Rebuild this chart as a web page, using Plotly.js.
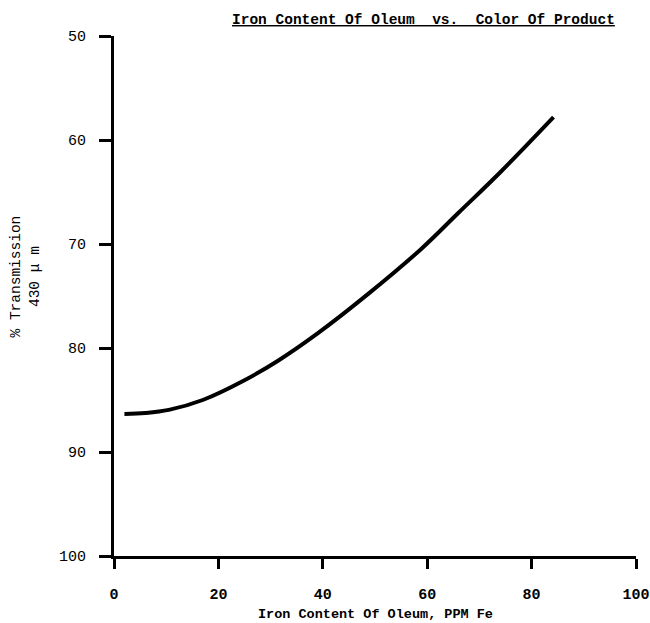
<!DOCTYPE html>
<html>
<head>
<meta charset="utf-8">
<script src="https://cdn.plot.ly/plotly-3.0.1.min.js"></script>
<style>html,body{margin:0;padding:0;background:#fff;}#chart{width:650px;height:623px;}</style>
</head>
<body>
<div id="chart"></div>
<script>
const ironPPM = [2, 6, 10.5, 17, 25, 31.5, 39, 48.7, 58.8, 66, 74, 84.2];
const transmission = [86.35, 86.25, 85.95, 85.0, 83.1, 81.2, 78.6, 74.8, 70.5, 67.0, 63.1, 57.8];
const xTicks = [0, 20, 40, 60, 80, 100];
const xTickLabels = ['0', '20', '40', '60', '80', '100'];
const yTicks = [50, 60, 70, 80, 90, 100];
const yTickLabels = ['50', '60', '70', '80', '90', '100'];
const titleText = 'Iron Content Of Oleum\u00a0\u00a0vs.\u00a0\u00a0Color Of Product';
const xTitle = 'Iron Content Of Oleum, PPM Fe';
const yTitleLines = ['% Transmission', '430 \u03bc m'];

const mono = 'Liberation Mono, Courier New, monospace';

Plotly.newPlot('chart', [{
  x: ironPPM,
  y: transmission,
  mode: 'lines',
  line: {color: '#000', width: 4, shape: 'spline', smoothing: 1},
  hoverinfo: 'none'
}], {
  width: 650, height: 623,
  margin: {l: 114, r: 14, t: 36, b: 67, pad: 0},
  paper_bgcolor: '#fff', plot_bgcolor: '#fff',
  showlegend: false,
  xaxis: {
    range: [0, 100], tickvals: xTicks, ticktext: xTickLabels,
    showgrid: false, zeroline: false, showline: true, linecolor: '#000', linewidth: 3,
    ticks: 'outside', ticklen: 10, tickwidth: 3, tickcolor: '#000',
    ticklabelstandoff: 12,
    tickfont: {family: mono, size: 15, color: '#000', weight: 'bold'}
  },
  yaxis: {
    range: [100, 50], tickvals: yTicks, ticktext: yTickLabels,
    showgrid: false, zeroline: false, showline: true, linecolor: '#000', linewidth: 3,
    ticks: 'outside', ticklen: 12, tickwidth: 3, tickcolor: '#000',
    ticklabelstandoff: 10,
    tickfont: {family: mono, size: 15, color: '#000'}
  },
  annotations: [
    {text: '<u>' + titleText + '</u>', xref: 'paper', yref: 'paper', x: 0.592, y: 1, yanchor: 'middle', yshift: 16,
     showarrow: false, font: {family: mono, size: 14.5, color: '#000', weight: 'bold'}},
    {text: xTitle, xref: 'paper', yref: 'paper', x: 0.5, y: 0, yanchor: 'middle', yshift: -58,
     showarrow: false, font: {family: mono, size: 13.5, color: '#000', weight: 'bold'}},
    {text: yTitleLines.join('<br>'), xref: 'paper', yref: 'paper', x: -0.17, y: 0.538,
     xanchor: 'center', yanchor: 'middle', textangle: -90,
     showarrow: false, font: {family: mono, size: 14.5, color: '#000'}}
  ]
}, {displayModeBar: false, staticPlot: true});
</script>
</body>
</html>
